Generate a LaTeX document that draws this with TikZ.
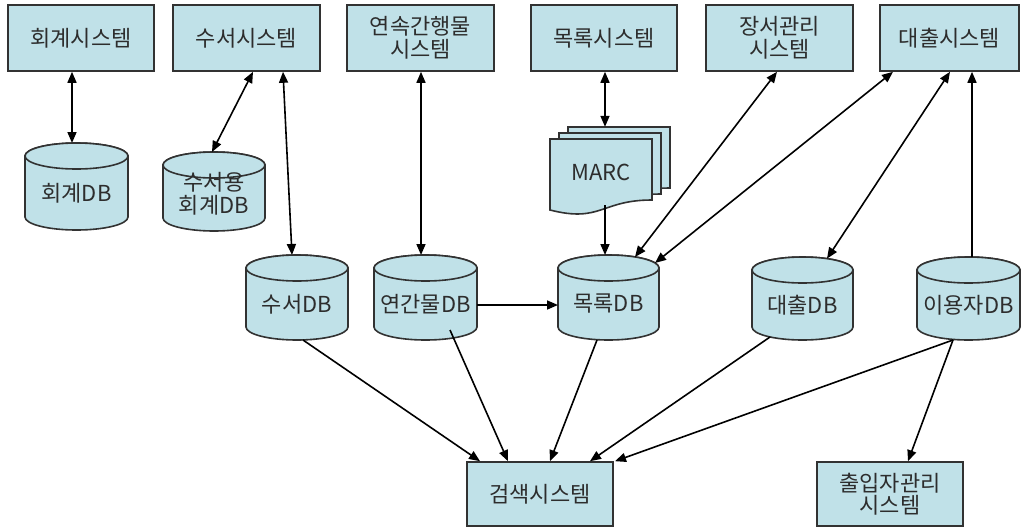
\documentclass[tikz,border=0pt]{standalone}
\usepackage{fontspec}
\setmainfont{Noto Sans CJK KR}
\usetikzlibrary{arrows.meta,calc}

\definecolor{boxfill}{RGB}{192,225,232}
\definecolor{boxline}{RGB}{50,50,50}
\definecolor{ink}{RGB}{45,45,45}

\tikzset{
  labelfont/.style={font=\fontsize{22pt}{22.5pt}\selectfont, text=ink},
  sysbox/.style={draw=boxline, fill=boxfill, line width=1.6pt, inner sep=0pt,
                 align=center, labelfont},
  dbshape/.style={draw=boxline, fill=boxfill, line width=1.6pt},
  dbhold/.style={inner sep=0pt, outer sep=0pt, draw=none},
  dblabel/.style={align=center, inner sep=0pt, labelfont},
  docsheet/.style={draw=boxline, fill=boxfill, line width=1.6pt},
  conn/.style={line width=1.6pt, draw=black,
               >={Triangle[length=11pt,width=9pt]}},
}

% database cylinder: [text shift], name, centre x, top y, bottom y, width, text
\newcommand\dbcyl[7][-6.5pt]{%
  \pgfmathsetmacro\dbL{#3-#6/2}%
  \pgfmathsetmacro\dbR{#3+#6/2}%
  \pgfmathsetmacro\dbRx{#6/2}%
  \pgfmathsetmacro\dbT{#4+13}%
  \pgfmathsetmacro\dbB{#5-13}%
  \pgfmathsetmacro\dbM{(#4+#5)/2}%
  \pgfmathsetmacro\dbH{#5-#4}%
  \filldraw[dbshape] (\dbL,\dbT) -- (\dbL,\dbB)
    arc[start angle=180, end angle=0, x radius=\dbRx, y radius=13]
    -- (\dbR,\dbT)
    arc[start angle=0, end angle=-180, x radius=\dbRx, y radius=13] -- cycle;
  \draw[dbshape] (#3,\dbT) ellipse[x radius=\dbRx, y radius=13];
  \node[dbhold, minimum width=#6pt, minimum height=\dbH pt,
        label={[dblabel, yshift=#1]center:{#7}}] (#2) at (#3,\dbM) {};%
}

\begin{document}
\begin{tikzpicture}[x=1pt, y=-1pt]
\useasboundingbox[fill=white] (0,0) rectangle (1021,528);

% systems, top row
\node[sysbox, minimum width=146pt, minimum height=66pt] (hsys) at (81,38) {회계시스템};
\node[sysbox, minimum width=147pt, minimum height=66pt] (ssys) at (246.5,38) {수서시스템};
\node[sysbox, minimum width=147pt, minimum height=66pt] (ysys) at (420.5,38) {연속간행물\\시스템};
\node[sysbox, minimum width=146pt, minimum height=66pt] (msys) at (604,38) {목록시스템};
\node[sysbox, minimum width=147pt, minimum height=66pt] (jsys) at (779.5,38) {장서관리\\시스템};
\node[sysbox, minimum width=139pt, minimum height=66pt] (dsys) at (949.5,38) {대출시스템};

% systems, bottom row
\node[sysbox, minimum width=146pt, minimum height=64pt] (gsys) at (540,494) {검색시스템};
\node[sysbox, minimum width=146pt, minimum height=64pt] (csys) at (890,494) {출입자관리\\시스템};

% databases
\dbcyl{hdb}{76.5}{143}{230}{103}{회계DB}
\dbcyl[-2.5pt]{sydb}{214}{152}{231}{102}{수서용\\회계DB}
\dbcyl{sdb}{297}{255}{340}{102}{수서DB}
\dbcyl{ydb}{425.5}{255}{340}{103}{연간물DB}
\dbcyl{mdb}{608.5}{255}{340}{101}{목록DB}
\dbcyl{ddb}{802.5}{257}{340}{101}{대출DB}
\dbcyl{udb}{968.5}{257}{340}{103}{이용자DB}

% MARC document stack
\filldraw[docsheet] (568,127) -- (670,127) -- (670,188)
  .. controls (619,188) and (619,211) .. (568,198) -- cycle;
\filldraw[docsheet] (559,133) -- (661,133) -- (661,194)
  .. controls (610,194) and (610,217) .. (559,204) -- cycle;
\filldraw[docsheet] (550,139) -- (652,139) -- (652,200)
  .. controls (601,200) and (601,223) .. (550,210) -- cycle;
\node[dblabel, minimum width=102pt, minimum height=66pt] (marc) at (601,172) {MARC};

% connectors
\draw[conn,<->] ($(hsys.south)+(-9,0)$) -- ($(hdb.north)+(-4.5,0)$);
\draw[conn,<->] ($(ssys.south)+(6.5,0)$) -- ($(sydb.north)+(-2,0)$);
\draw[conn,<->] ($(ssys.south)+(36.5,0)$) -- ($(sdb.north)+(-5,0)$);
\draw[conn,<->] ($(ysys.south)+(0.5,0)$) -- ($(ydb.north)+(-4.5,0)$);
\draw[conn,<->] ($(msys.south)+(1,0)$) -- ($(marc.north)+(4,-12)$);
\draw[conn,->] ($(marc.south)+(4,0)$) -- ($(mdb.north)+(-3.5,0)$);
\draw[conn,<->] ($(jsys.south)+(-2.5,0)$) -- ($(mdb.north)+(26.5,2)$);
\draw[conn,<->] ($(dsys.south)+(-56.5,0)$) -- ($(mdb.north)+(46.5,8)$);
\draw[conn,<->] ($(dsys.south)+(0.5,0)$) -- ($(ddb.north)+(24.5,1.6)$);
\draw[conn,->] ($(udb.north)+(3.5,0)$) -- ($(dsys.south)+(22.5,0)$);
\draw[conn,->] ($(ydb.east)+(0,7.5)$) -- ($(mdb.west)+(0,7.5)$);

\draw[conn,->] ($(sdb.south)+(6,0)$) -- ($(gsys.north)+(-60,0)$);
\draw[conn,->] ($(ydb.south)+(24.5,-10)$) -- ($(gsys.north)+(-32,0)$);
\draw[conn,->] ($(mdb.south)+(-11.5,0)$) -- ($(gsys.north)+(10,0)$);
\draw[conn,->] ($(ddb.south)+(-32.5,-3)$) -- ($(gsys.north)+(50,0)$);
\draw[conn,->] ($(udb.south)+(-15.5,0)$) -- ($(gsys.north)+(75,0)$);
\draw[conn,->] ($(udb.south)+(-15.5,0)$) -- ($(csys.north)+(18,0)$);
\end{tikzpicture}
\end{document}
